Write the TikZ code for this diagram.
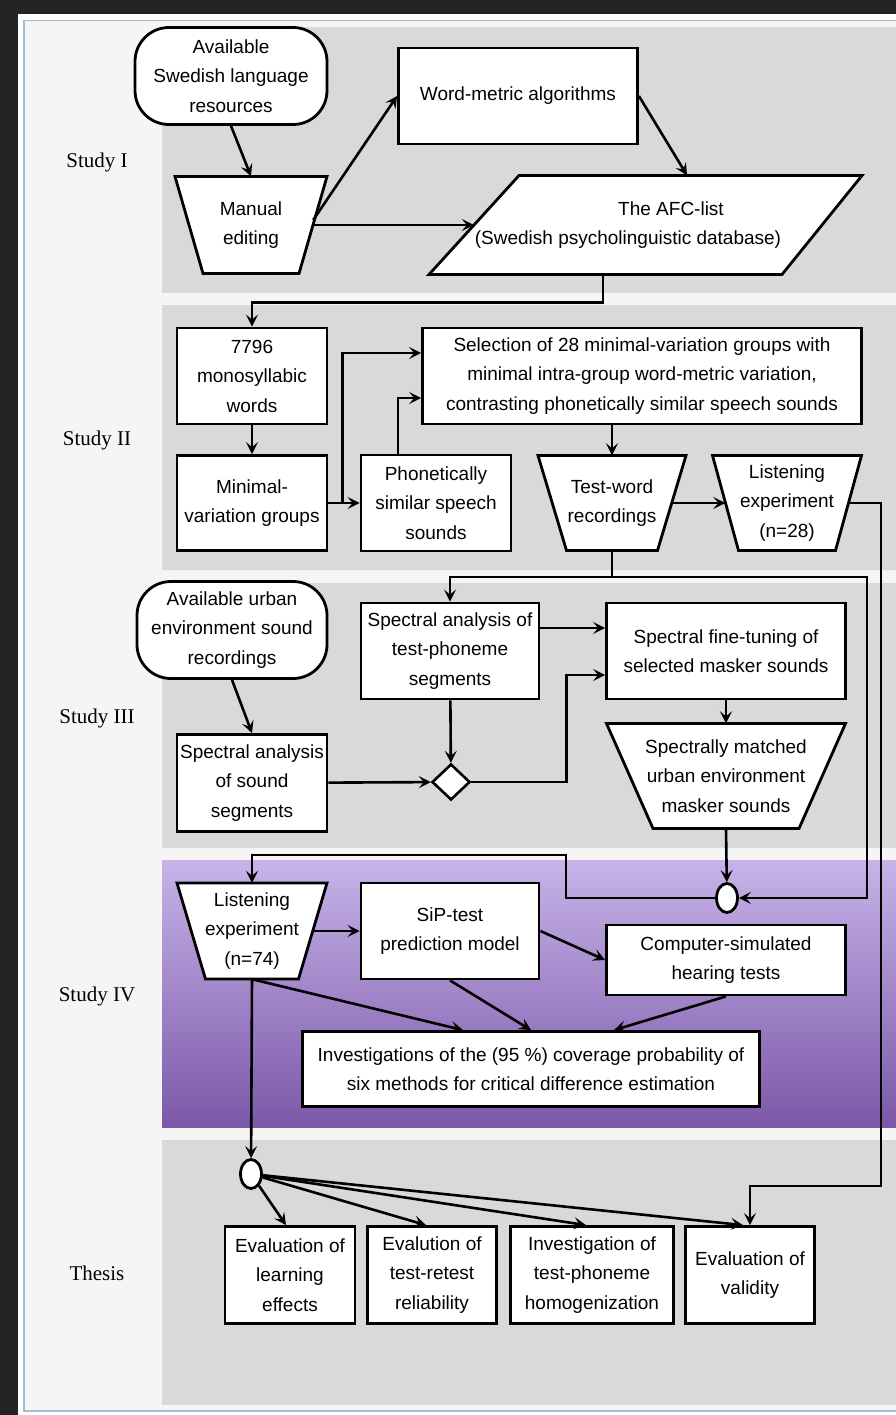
\documentclass[tikz,border=0pt]{standalone}
\usepackage{fontspec}
\setmainfont{Liberation Sans}
\newfontfamily\lanefont{Liberation Serif}
\usetikzlibrary{arrows.meta, shapes.geometric}
\definecolor{darkbg}{HTML}{242424}
\definecolor{framefill}{HTML}{FFFFFF}
\definecolor{frameedge}{HTML}{A7BBD0}
\definecolor{panelfill}{HTML}{F5F5F5}
\definecolor{bandfill}{HTML}{D9D9D9}
\definecolor{purptop}{HTML}{C7B3E9}
\definecolor{purpbot}{HTML}{7B58A8}
\newcommand{\boxfont}{\fontsize{19}{29.5}\selectfont}

\begin{document}
\begin{tikzpicture}[x=1pt, y=-1pt,
  box/.style={rectangle, draw, fill=white, line width=2.8pt, align=center,
              inner sep=1pt, font=\boxfont},
  term/.style={box, rounded corners=34pt},
  outline/.style={draw, fill=white, line width=2.8pt},
  trapbox/.style={rectangle, align=center, inner sep=0pt, font=\boxfont},
  junc/.style={ellipse, draw, fill=white, line width=2.8pt, minimum width=21pt,
               minimum height=29pt, inner sep=0pt},
  decide/.style={diamond, draw, fill=white, line width=2.6pt, minimum width=38pt,
                 minimum height=36pt, inner sep=0pt},
  flow/.style={draw, line width=2.6pt, -{Stealth[length=12pt, width=12pt, inset=5pt]}},
  lane/.style={font=\fontsize{21}{25}\selectfont\lanefont},
]
\clip (0,0) rectangle (896,1415);
% ---- frame and lanes
\fill[darkbg] (0,0) rectangle (896,1415);
\fill[framefill] (18,14) rectangle (896,1415);
\filldraw[draw=frameedge, fill=panelfill, line width=1.5pt] (24,20.5) rectangle (920,1411);
\fill[bandfill] (162,27) rectangle (896,293);
\fill[bandfill] (162,305) rectangle (896,570);
\fill[bandfill] (162,583) rectangle (896,848);
\shade[top color=purptop, bottom color=purpbot] (162,860) rectangle (896,1127);
\fill[bandfill] (162,1140) rectangle (896,1405);
\node[lane] (lane_i) at (97,162) {Study I};
\node[lane] (lane_ii) at (97,440) {Study II};
\node[lane] (lane_iii) at (97,718) {Study III};
\node[lane] (lane_iv) at (97,996) {Study IV};
\node[lane] (lane_thesis) at (97,1273) {Thesis};
% ---- Study I: word list
\node[term, minimum width=192pt, minimum height=97pt] (avail) at (231,76) {Available\\Swedish language\\resources};
\node[box, minimum width=239pt, minimum height=96pt] (metric) at (518,96) {Word-metric algorithms};
\filldraw[outline, shift={(251,225)}] (-76,-48.5) -- (76,-48.5) -- (48,48.5) -- (-48,48.5) -- cycle;
\node[trapbox, minimum width=124pt, minimum height=97pt] (manual) at (251,225) {Manual\\editing};
\filldraw[outline, shift={(645,225)}] (-126,-49.5) -- (217,-49.5) -- (137,49.5) -- (-216,49.5) -- cycle;
\node[trapbox, minimum width=348pt, minimum height=99pt] (afc) at (648,225) {\hspace*{46pt}The AFC-list\\(Swedish psycholinguistic database)\hspace*{40pt}};
\draw[flow] (avail.south) -- (manual.north);
\draw[flow] ([yshift=5pt]manual.east) -- (metric.west);
\draw[flow] (manual.east) -- (afc.west);
\draw[flow] (metric.east) -- ([xshift=39pt]afc.north);
% ---- Study II: test words
\node[box, minimum width=150pt, minimum height=96pt] (words) at (252,376) {7796\\monosyllabic\\words};
\node[box, minimum width=150pt, minimum height=95pt] (mvgroups) at (252,503) {Minimal-\\variation groups};
\node[box, minimum width=150pt, minimum height=96pt] (phon) at (436,503) {Phonetically\\similar speech\\sounds};
\node[box, minimum width=439pt, minimum height=96pt] (select) at (642,376) {Selection of 28 minimal-variation groups with\\minimal intra-group word-metric variation,\\contrasting phonetically similar speech sounds};
\filldraw[outline, shift={(612,503)}] (-74,-47.5) -- (74,-47.5) -- (45.5,47.5) -- (-45.5,47.5) -- cycle;
\node[trapbox, minimum width=120pt, minimum height=95pt] (testword) at (612,503) {Test-word\\recordings};
\filldraw[outline, shift={(787,503)}] (-74.5,-47.5) -- (74.5,-47.5) -- (48.5,47.5) -- (-48.5,47.5) -- cycle;
\node[trapbox, minimum width=123pt, minimum height=95pt] (listen28) at (787,503) {Listening\\experiment\\(n=28)};
\coordinate (wordsplit) at (612,577);
\coordinate (railin) at (867,898);
\coordinate (railout) at (881,1186);
\draw[flow] ([xshift=-45pt]afc.south) -- ++(0,28) -| (words.north);
\draw[flow] (words) -- (mvgroups);
\draw[flow] (mvgroups) -- (phon);
\draw[flow] (mvgroups.east) -- ++(14,0) |- ([yshift=23pt]select.west);
\draw[flow] ([xshift=-38pt]phon.north) |- ([yshift=-22pt]select.west);
\draw[flow] (testword.north |- select.south) -- (testword.north);
\draw[flow] (testword.east) -- (listen28.west);
\draw[line width=2.6pt] (testword.south) -- (wordsplit);
% ---- Study III: maskers
\node[term, minimum width=190pt, minimum height=97pt] (urban) at (232,630) {Available urban\\environment sound\\recordings};
\node[box, minimum width=150pt, minimum height=97pt] (specseg) at (252,783) {Spectral analysis\\of sound\\segments};
\node[box, minimum width=178pt, minimum height=96pt] (specphon) at (450,651) {Spectral analysis of\\test-phoneme\\segments};
\node[decide] (merge) at (451,782) {};
\node[box, minimum width=239pt, minimum height=96pt] (finetune) at (726,651) {Spectral fine-tuning of\\selected masker sounds};
\filldraw[outline, shift={(726,776)}] (-119.5,-52.5) -- (119.5,-52.5) -- (73,52.5) -- (-73,52.5) -- cycle;
\node[trapbox, minimum width=192pt, minimum height=105pt] (matched) at (726,776) {Spectrally matched\\urban environment\\masker sounds};
\draw[flow] (wordsplit) -| (specphon.north);
\draw[flow] (urban.south) -- (specseg.north);
\draw[flow] (specphon) -- (merge);
\draw[flow] (specseg) -- (merge);
\draw[flow] (merge.east) -- ++(95,0) |- ([yshift=-24pt]finetune.west);
\draw[flow] ([yshift=23pt]specphon.east) -- ([yshift=23pt]finetune.west);
\draw[flow] (finetune) -- (matched);
% ---- Study IV: prediction
\node[junc] (join) at (727,898) {};
\filldraw[outline, shift={(252,931)}] (-75,-48) -- (75,-48) -- (46.5,48) -- (-46.5,48) -- cycle;
\node[trapbox, minimum width=121pt, minimum height=96pt] (listen74) at (252,931) {Listening\\experiment\\(n=74)};
\node[box, minimum width=178pt, minimum height=96pt] (sip) at (450,931) {SiP-test\\prediction model};
\node[box, minimum width=239pt, minimum height=70pt] (compsim) at (726,960) {Computer-simulated\\hearing tests};
\node[box, minimum width=457pt, minimum height=75pt] (coverage) at (531,1069) {Investigations of the (95 \%) coverage probability of\\six methods for critical difference estimation};
\coordinate (loopback) at (566,855);
\draw[flow] (matched.south) -- (join);
\draw[flow] (wordsplit) -| (railin) -- (join);
\draw[flow] (join.west) -| (loopback) -| (listen74.north);
\draw[flow] (listen74.east) -- (sip.west);
\draw[flow] (sip.east) -- (compsim.west);
\draw[flow] (listen74.south) -- ([xshift=-68pt]coverage.north);
\draw[flow] (sip.south) -- (coverage.north);
\draw[flow] (compsim.south) -- ([xshift=83pt]coverage.north);
% ---- Thesis
\node[junc] (split) at (251,1174) {};
\node[box, minimum width=130pt, minimum height=97pt] (learn) at (290,1275) {Evaluation of\\learning\\effects};
\node[box, minimum width=129pt, minimum height=97pt] (retest) at (432,1275) {Evalution of\\test-retest\\reliability};
\node[box, minimum width=163pt, minimum height=97pt] (homog) at (592,1275) {Investigation of\\test-phoneme\\homogenization};
\node[box, minimum width=129pt, minimum height=97pt] (valid) at (750,1275) {Evaluation of\\validity};
\draw[flow] (listen74.south) -- (split);
\draw[flow] (listen28.east) -| (railout) -| (valid.north);
\draw[flow] (split) -- ([xshift=-4pt]learn.north);
\draw[flow] (split) -- ([xshift=-6pt]retest.north);
\draw[flow] (split) -- ([xshift=-6pt]homog.north);
\draw[flow] (split) -- ([xshift=-7pt]valid.north);
\end{tikzpicture}
\end{document}
